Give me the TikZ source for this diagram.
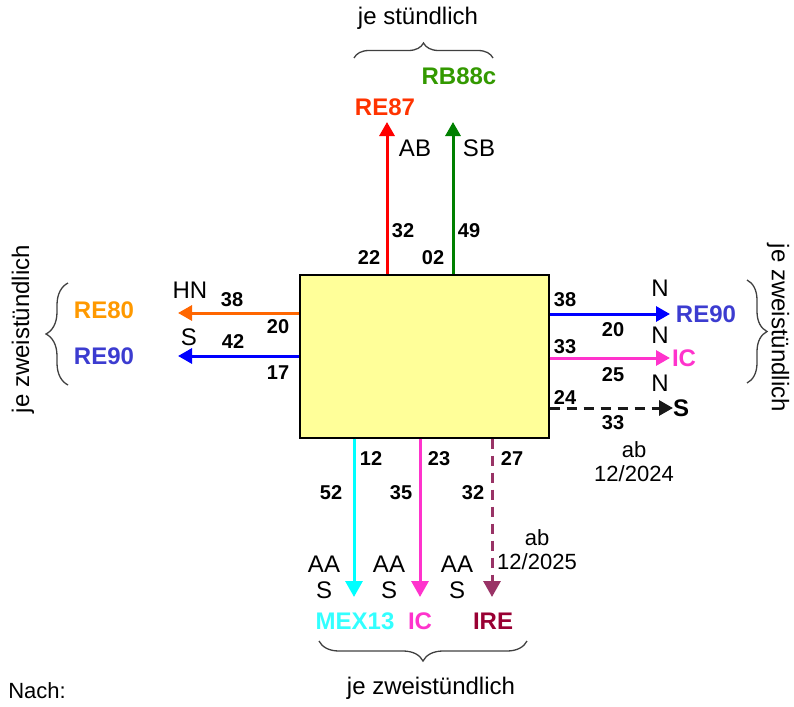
\documentclass[tikz,border=0pt]{standalone}
\usepackage{fontspec}
\setmainfont{Liberation Sans}
\usepackage{tikz}
\usetikzlibrary{arrows.meta}
\usetikzlibrary{decorations,decorations.pathreplacing}
\usepackage{xcolor}
\definecolor{boxyellow}{HTML}{FFFF99}
\definecolor{bracegray}{HTML}{404040}
\definecolor{reRed}{HTML}{FF3300}
\definecolor{rbGreen}{HTML}{339900}
\definecolor{arGreen}{HTML}{008000}
\definecolor{arOrange}{HTML}{FF6600}
\definecolor{reOrange}{HTML}{FF9900}
\definecolor{reBlue}{HTML}{3C3CD0}
\definecolor{icPink}{HTML}{FF33CC}
\definecolor{mexCyan}{HTML}{00FFFF}
\definecolor{mexText}{HTML}{33FFFF}
\definecolor{ireArrow}{HTML}{993366}
\definecolor{ireText}{HTML}{990033}
\tikzset{
  train/.style={line width=3pt, -{Triangle[length=14pt,width=15pt]}},
  trainlong/.style={line width=3pt, -{Triangle[length=16pt,width=17pt]}},
  later/.style={dash pattern=on 10pt off 7pt},
  num/.style={font=\fontsize{20}{22}\selectfont\bfseries, inner sep=0pt},
  dirtxt/.style={font=\fontsize{24}{26}\selectfont, inner sep=0pt},
  linename/.style={font=\fontsize{24}{26}\selectfont\bfseries, inner sep=0pt},
  note/.style={font=\fontsize{22}{24}\selectfont, inner sep=0pt, align=center},
  cluster/.style={decorate, decoration={brace, amplitude=#1}, draw=bracegray, line width=1.3pt},
}
\begin{document}
\begin{tikzpicture}[x=1pt,y=1pt]
\useasboundingbox (0,0) rectangle (794,-706);
\node[draw, fill=boxyellow, line width=1.2pt, minimum width=249pt, minimum height=163pt, inner sep=0pt](hub) at (424.5,-356.5) {};
% nach oben
\coordinate (re87tip) at (387,-122);
\coordinate (rb88tip) at (453,-122);
\draw[train, red] (hub.north -| re87tip) -- (re87tip);
\draw[train, arGreen] (hub.north -| rb88tip) -- (rb88tip);
\node[linename, text=reRed](re87) at (385,-107) {RE87};
\node[linename, text=rbGreen](rb88) at (459,-76) {RB88c};
\node[dirtxt](ab) at (415,-148) {AB};
\node[dirtxt](sb) at (479,-148) {SB};
\node[num](n32a) at (403,-231) {32};
\node[num](n49) at (469,-231) {49};
\node[num](n22) at (369,-258) {22};
\node[num](n02) at (433,-258) {02};
\draw[cluster=15pt] (354,-58) -- (493,-58);
\node[dirtxt](hourly) at (418,-18) {je stündlich};
% nach links
\coordinate (re80tip) at (178,-313);
\coordinate (re90ltip) at (178,-356);
\draw[train, arOrange] (hub.west |- re80tip) -- (re80tip);
\draw[train, blue] (hub.west |- re90ltip) -- (re90ltip);
\node[linename, text=reOrange](re80) at (104,-310) {RE80};
\node[linename, text=reBlue](re90l) at (104,-356) {RE90};
\node[dirtxt](hn) at (190,-290) {HN};
\node[dirtxt](sl) at (189,-337) {S};
\node[num](n38l) at (232,-300) {38};
\node[num](n20l) at (278,-327) {20};
\node[num](n42) at (233,-342) {42};
\node[num](n17) at (278,-373) {17};
\draw[cluster=22pt] (68,-385) -- (68,-283);
\node[dirtxt, rotate=90](twohourl) at (23,-329) {je zweistündlich};
% nach rechts
\coordinate (re90rtip) at (670,-314);
\coordinate (icrtip) at (670,-358);
\coordinate (srtip) at (673,-408);
\draw[train, blue] (hub.east |- re90rtip) -- (re90rtip);
\draw[train, icPink] (hub.east |- icrtip) -- (icrtip);
\draw[train, later, black!90] (hub.east |- srtip) -- (srtip);
\node[linename, text=reBlue](re90r) at (706,-314) {RE90};
\node[linename, text=icPink](icr) at (684,-358) {IC};
\node[linename](sr) at (681,-408) {S};
\node[dirtxt](na) at (660,-288) {N};
\node[dirtxt](nb) at (660,-335) {N};
\node[dirtxt](nc) at (660,-383) {N};
\node[num](n38r) at (565,-300) {38};
\node[num](n20r) at (613,-330) {20};
\node[num](n33a) at (565,-347) {33};
\node[num](n25) at (613,-375) {25};
\node[num](n24) at (565,-398) {24};
\node[num](n33b) at (613,-423) {33};
\node[note](from24) at (634,-462) {ab\\12/2024};
\draw[cluster=20pt] (747,-280) -- (747,-383);
\node[dirtxt, rotate=-90](twohourr) at (778,-328) {je zweistündlich};
% nach unten
\coordinate (mextip) at (354,-597);
\coordinate (icbtip) at (420,-597);
\coordinate (iretip) at (492,-597);
\draw[trainlong, mexCyan] (hub.south -| mextip) -- (mextip);
\draw[trainlong, icPink] (hub.south -| icbtip) -- (icbtip);
\draw[trainlong, later, ireArrow] (hub.south -| iretip) -- (iretip);
\node[linename, text=mexText](mex) at (355,-621) {MEX13};
\node[linename, text=icPink](icb) at (420,-621) {IC};
\node[linename, text=ireText](ire) at (493,-621) {IRE};
\node[num](n12) at (371,-459) {12};
\node[num](n23) at (439,-459) {23};
\node[num](n27) at (512,-459) {27};
\node[num](n52) at (331,-493) {52};
\node[num](n35) at (401,-493) {35};
\node[num](n32b) at (473,-493) {32};
\node[dirtxt, align=center](aas1) at (324,-577) {AA\\S};
\node[dirtxt, align=center](aas2) at (389,-577) {AA\\S};
\node[dirtxt, align=center](aas3) at (457,-577) {AA\\S};
\node[note](from25) at (537,-550) {ab\\12/2025};
\draw[cluster=20pt] (527,-641) -- (319,-641);
\node[dirtxt](twohourb) at (431,-688) {je zweistündlich};
\node[note](nach) at (37,-691) {Nach:};
\end{tikzpicture}
\end{document}
